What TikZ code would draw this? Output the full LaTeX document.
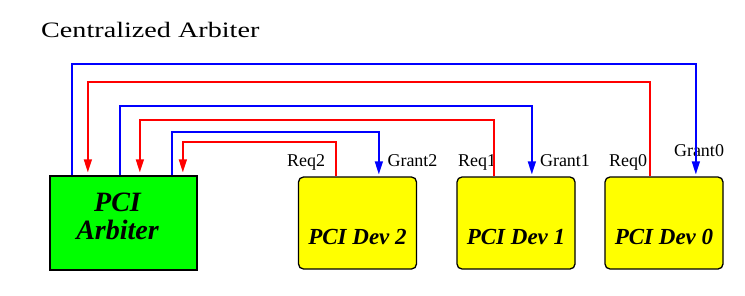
\documentclass[tikz,border=0pt]{standalone}
\usepackage{fontspec}
\setmainfont{Liberation Serif}
\usetikzlibrary{arrows.meta}
\definecolor{arbgreen}{RGB}{0,255,0}
\definecolor{devyellow}{RGB}{255,255,0}
\definecolor{gntblue}{RGB}{0,0,255}
\definecolor{reqred}{RGB}{255,0,0}
\tikzset{
  arbbox/.style={draw,line width=1.3pt,fill=arbgreen,minimum width=147pt,minimum height=94pt},
  arbtext/.style={align=center,inner sep=0pt,font=\fontsize{28pt}{28pt}\selectfont\bfseries\itshape},
  devbox/.style={draw,line width=1.3pt,fill=devyellow,rounded corners=5pt,minimum width=118pt,minimum height=92pt,
    text height=43pt,text depth=0pt,font=\fontsize{23pt}{27pt}\selectfont\bfseries\itshape},
  siglabel/.style={anchor=base,inner sep=0pt,font=\fontsize{18pt}{20pt}\selectfont},
  grantline/.style={draw=gntblue,line width=1.4pt,-{Triangle[length=13pt,width=8pt]}},
  reqline/.style={draw=reqred,line width=1.4pt,-{Triangle[length=13pt,width=8pt]}}
}
\begin{document}
\begin{tikzpicture}[x=1pt,y=-1pt]
  \useasboundingbox (0,0) rectangle (745,295);
  \node (title) [anchor=base west,inner sep=0pt] at (41,37)
    {\scalebox{1.28}[1]{\fontsize{22pt}{24pt}\selectfont Centralized Arbiter}};
  % arbiter and devices
  \node (arb) [arbbox,label={[name=arbname,arbtext,xshift=-6pt,yshift=7pt]center:PCI\\Arbiter}] at (123.5,223) {};
  \node (dev2) [devbox] at (357.5,223) {PCI Dev 2};
  \node (dev1) [devbox] at (516,223) {PCI Dev 1};
  \node (dev0) [devbox] at (664,223) {PCI Dev 0};
  % signal names
  \node (req2) [siglabel] at (306,166) {Req2};
  \node (gnt2) [siglabel] at (412.5,166) {Grant2};
  \node (req1) [siglabel] at (477,166) {Req1};
  \node (gnt1) [siglabel] at (565,166) {Grant1};
  \node (req0) [siglabel] at (628,166) {Req0};
  \node (gnt0) [siglabel] at (699,156) {Grant0};
  % grant lines, arbiter -> device
  \foreach \a/\i/\b/\l in {22.5/0/91.5/-111.5, 70.5/1/75.5/-69.5, 122.5/2/81/-43.5}{
    \draw [grantline] ([xshift=\a]arb.north west) -- ++(0,\l) -| ([xshift=\b,yshift=2]dev\i.north west);
  }
  % request lines, device -> arbiter
  \foreach \a/\i/\b/\l in {38.5/0/45.5/-94.5, 90.5/1/37.5/-56.5, 133.5/2/38/-34.5}{
    \draw [reqline] ([xshift=\b]dev\i.north west) -- ++(0,\l) -| ([xshift=\a,yshift=3]arb.north west);
  }
\end{tikzpicture}
\end{document}
